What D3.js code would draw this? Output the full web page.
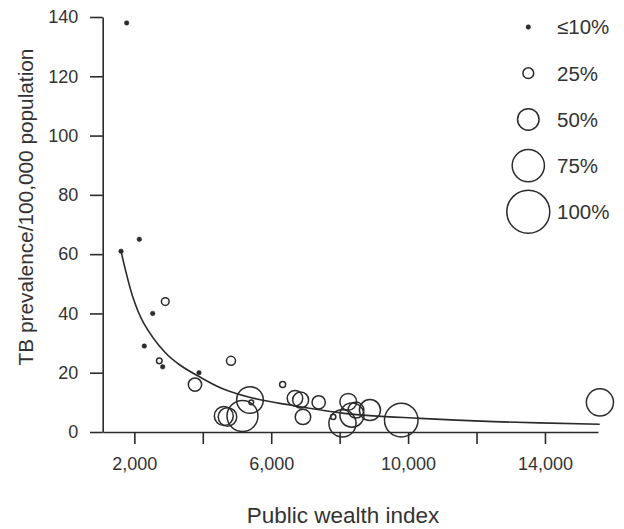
<!DOCTYPE html>
<html>
<head>
<meta charset="utf-8">
<script src="https://cdn.jsdelivr.net/npm/d3@7/dist/d3.min.js"></script>
<style>
  html, body { margin: 0; padding: 0; background: #fff; }
  svg { display: block; }
  text { font-family: "Liberation Sans", Arial, Helvetica, sans-serif; fill: #333; }
</style>
</head>
<body>
<svg id="chart" width="624" height="529"></svg>
<script>
// ---- data ----
const wealth     = [1776, 1610, 2145, 2904, 2536, 2291, 2729, 2828, 3889, 3772, 4824, 5379, 5417, 4614, 4722, 5160, 6334, 6694, 6860, 7387, 6928, 7813, 8082, 8251, 8359, 8885, 8476, 9800, 15606];
const prevalence = [138, 61, 65, 44, 40, 29, 24, 22, 20, 16, 24, 10.8, 10, 5.4, 5.1, 5.4, 16, 11.4, 10.8, 10, 5.1, 5.1, 2.9, 10.2, 5.7, 7.4, 7.4, 4.0, 10];
const share      = [0.05, 0.05, 0.05, 0.18, 0.05, 0.05, 0.13, 0.05, 0.05, 0.31, 0.21, 0.62, 0.11, 0.44, 0.43, 0.72, 0.14, 0.36, 0.37, 0.31, 0.36, 0.12, 0.63, 0.39, 0.56, 0.49, 0.37, 0.78, 0.63];

// fitted trend curve
const trendX = [1610, 1970, 2260, 2900, 3330, 3890, 4600, 5580, 6550, 8200, 10350, 12500, 15600];
const trendY = [61, 45, 37, 26.8, 22.6, 18.7, 14.5, 11.1, 9.1, 6.2, 4.6, 3.5, 2.6];

const xTicks = [2000, 4000, 6000, 8000, 10000, 12000, 14000];
const xTickLabels = ["2,000", "", "6,000", "", "10,000", "", "14,000"];
const yTicks = [0, 20, 40, 60, 80, 100, 120, 140];

const legendShares = [0.1, 0.25, 0.5, 0.75, 1.0];
const legendLabels = ["\u226410%", "25%", "50%", "75%", "100%"];

// ---- layout ----
const svg = d3.select("#chart");
const ink = "#2b2b2b";
const x = d3.scaleLinear().domain([1075, 15550]).range([102.7, 598]);
const y = d3.scaleLinear().domain([0, 140]).range([432, 17]);
const r = d3.scaleLinear().domain([0, 1]).range([0, 21.5]);
const dotR = 2.3;

// axes
const xAxis = d3.axisBottom(x).tickValues(xTicks).tickSize(12).tickSizeOuter(0)
  .tickFormat((d, i) => xTickLabels[i]);
const gx = svg.append("g").attr("transform", `translate(0,${y(0)})`).call(xAxis);
gx.select(".domain").attr("stroke", ink).attr("stroke-width", 1.6);
gx.selectAll(".tick line").attr("stroke", ink).attr("stroke-width", 1.6);
gx.selectAll(".tick text").attr("y", 38).attr("dy", 0).attr("font-size", 18)
  .attr("fill", "#333").style("font-family", '"Liberation Sans", Arial, sans-serif');

const yAxis = d3.axisLeft(y).tickValues(yTicks).tickSize(12.7).tickSizeOuter(0);
const gy = svg.append("g").attr("transform", `translate(${x.range()[0]},0)`).call(yAxis);
gy.select(".domain").attr("stroke", ink).attr("stroke-width", 1.6);
gy.selectAll(".tick line").attr("stroke", ink).attr("stroke-width", 1.6);
gy.selectAll(".tick text").attr("x", -24.5).attr("font-size", 18)
  .attr("fill", "#333").style("font-family", '"Liberation Sans", Arial, sans-serif');

// axis titles
svg.append("text").attr("x", 343).attr("y", 523).attr("text-anchor", "middle")
  .attr("font-size", 22.5).text("Public wealth index");
svg.append("text").attr("transform", "translate(33,207) rotate(-90)").attr("text-anchor", "middle")
  .attr("font-size", 20.8).text("TB prevalence/100,000 population");

// trend line
const line = d3.line().x(d => x(d[0])).y(d => y(d[1])).curve(d3.curveCatmullRom.alpha(0.5));
svg.append("path").datum(trendX.map((v, i) => [v, trendY[i]]))
  .attr("d", line).attr("fill", "none").attr("stroke", ink).attr("stroke-width", 1.6);

// points
const pts = wealth.map((w, i) => ({ w, p: prevalence[i], s: share[i] }));
svg.append("g").selectAll("circle").data(pts).join("circle")
  .attr("cx", d => x(d.w)).attr("cy", d => y(d.p))
  .attr("r", d => d.s <= 0.1 ? dotR : r(d.s))
  .attr("fill", d => d.s <= 0.1 ? ink : "none")
  .attr("stroke", ink).attr("stroke-width", d => d.s <= 0.1 ? 0.5 : 1.5);

// legend
const lg = svg.append("g");
const legY = i => 27 + i * 46.2;
lg.selectAll("circle").data(legendShares).join("circle")
  .attr("cx", 528.3).attr("cy", (d, i) => legY(i))
  .attr("r", d => d <= 0.1 ? dotR : r(d))
  .attr("fill", d => d <= 0.1 ? ink : "none")
  .attr("stroke", ink).attr("stroke-width", d => d <= 0.1 ? 0.5 : 1.5);
lg.selectAll("text").data(legendLabels).join("text")
  .attr("x", 557).attr("y", (d, i) => legY(i)).attr("dy", "0.36em")
  .attr("font-size", 20.5).text(d => d);
</script>
</body>
</html>
